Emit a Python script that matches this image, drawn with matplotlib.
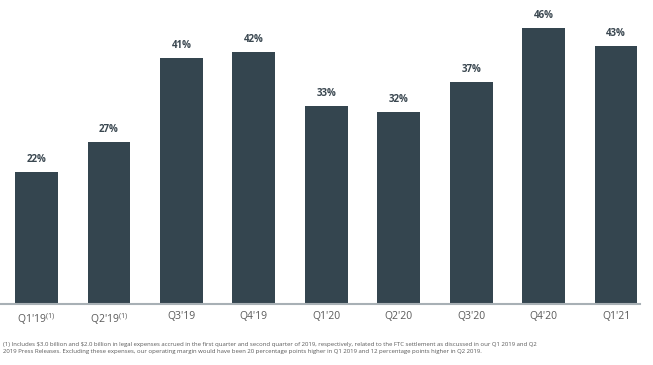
import matplotlib.pyplot as plt

quarters = ["Q1'19", "Q2'19", "Q3'19", "Q4'19", "Q1'20", "Q2'20", "Q3'20", "Q4'20", "Q1'21"]
margins = [22, 27, 41, 42, 33, 32, 37, 46, 43]
footnoted = [True, True, False, False, False, False, False, False, False]

plt.rcParams['font.family'] = ['Open Sans', 'DejaVu Sans']

fig = plt.figure(figsize=(6.53, 3.65), dpi=100)
ax = fig.add_axes([0, 1 - 304 / 365, 640 / 653, 294 / 365])

x = range(len(quarters))
bars = ax.bar(x, margins, width=0.59, color='#34454f')
for b, v in zip(bars, margins):
    ax.text(b.get_x() + b.get_width() / 2, v + 1.1, f'{v}%', ha='center', va='bottom',
            fontsize=7, fontweight='bold', color='#3a4750')

labels = [q + (r'$^{\mathregular{(1)}}$' if f else '') for q, f in zip(quarters, footnoted)]
ax.set_xticks(list(x))
ax.set_xticklabels(labels, fontsize=7.5, color='#595959')
ax.tick_params(axis='x', length=0, pad=5)
ax.set_yticks([])
ax.set_xlim(-0.504, 8.33)
ax.set_ylim(0, 49)
for s in ['top', 'right', 'left']:
    ax.spines[s].set_visible(False)
ax.spines['bottom'].set_color('#a8b0b5')
ax.spines['bottom'].set_linewidth(1.5)

note = ("(1) Includes $3.0 billion and $2.0 billion in legal expenses accrued in the first quarter and second quarter of 2019, "
        "respectively, related to the FTC settlement as discussed in our Q1 2019 and Q2\n"
        "2019 Press Releases. Excluding these expenses, our operating margin would have been 20 percentage points higher "
        "in Q1 2019 and 12 percentage points higher in Q2 2019.")
fig.text(3 / 653, 1 - 342 / 365, note.replace('$', r'\$'), fontsize=4.3, color='#595959',
         va='top', ha='left', linespacing=1.5)

fig.savefig('out.png', dpi=100)
